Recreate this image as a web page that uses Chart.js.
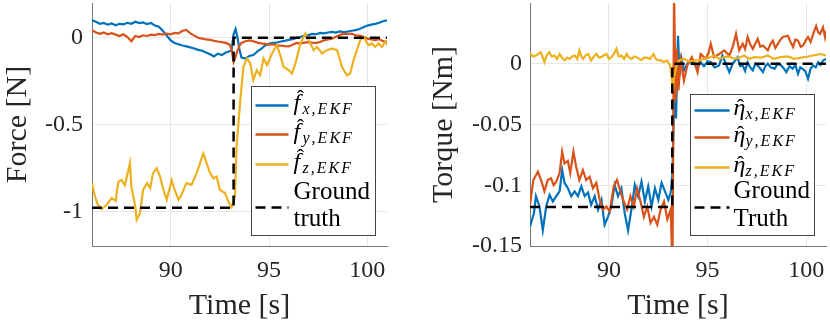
<!DOCTYPE html>
<html>
<head>
<meta charset="utf-8">
<script src="https://cdn.jsdelivr.net/npm/chart.js@4.4.1/dist/chart.umd.min.js"></script>
<style>
body{margin:0;background:#fff;width:830px;height:326px;position:relative;overflow:hidden}
canvas{position:absolute;top:0}
#forceChart{left:0}
#torqueChart{left:415px}
</style>
</head>
<body>
<canvas id="forceChart" width="415" height="326"></canvas>
<canvas id="torqueChart" width="415" height="326"></canvas>
<script>
const timeTicks = [90, 95, 100]
const forceTicks = [-1, -0.5, 0]
const torqueTicks = [-0.15, -0.1, -0.05, 0]

// force plot, x and y estimates share one time grid
const forceTime = [86.0,86.2,86.4,86.6,86.8,87.0,87.2,87.4,87.6,87.8,88.0,88.2,88.4,88.6,88.8,89.0,89.2,89.4,89.6,89.8,
  90.0,90.2,90.4,90.6,90.8,91.0,91.2,91.4,91.6,91.8,92.0,92.2,92.4,92.6,92.8,93.0,
  93.1,93.2,93.3,93.4,93.5,93.6,
  93.8,94.0,94.2,94.4,94.6,94.8,95.0,95.2,95.4,95.6,95.8,96.0,96.2,96.4,96.6,96.8,97.0,97.2,97.4,97.6,97.8,98.0,98.2,98.4,98.6,98.8,99.0,99.2,99.4,99.6,99.8,100.0,100.2,100.4,100.6,100.8,101.0]
const forceX = [0.100,0.092,0.080,0.085,0.075,0.082,0.072,0.080,0.077,0.086,0.080,0.092,0.084,0.088,0.078,0.085,0.070,0.063,0.040,0.012,
  -0.015,-0.030,-0.038,-0.045,-0.050,-0.056,-0.062,-0.070,-0.075,-0.085,-0.095,-0.108,-0.092,-0.100,-0.085,-0.078,
  -0.070,0.020,0.050,0.000,-0.070,-0.115,
  -0.120,-0.105,-0.100,-0.080,-0.065,-0.045,-0.035,-0.030,-0.028,-0.022,-0.018,-0.012,-0.008,-0.002,0.004,0.012,0.015,0.022,0.020,0.028,0.025,0.030,0.034,0.030,0.036,0.032,0.035,0.040,0.044,0.050,0.060,0.070,0.075,0.080,0.086,0.095,0.100]
const forceY = [0.043,0.030,0.022,0.030,0.020,0.026,0.018,0.010,0.020,0.004,-0.020,0.010,0.004,0.014,0.010,0.018,0.015,0.022,0.018,0.024,
  0.020,0.028,0.025,0.040,0.045,0.025,0.012,0.000,-0.005,-0.010,-0.012,-0.018,-0.022,-0.025,-0.030,-0.040,
  -0.070,-0.140,-0.110,-0.075,-0.045,-0.030,
  -0.020,-0.015,-0.020,-0.028,-0.033,-0.035,-0.040,-0.038,-0.045,-0.045,-0.048,-0.050,-0.040,-0.030,-0.034,-0.028,-0.025,-0.028,-0.030,-0.025,-0.015,-0.010,-0.005,0.005,0.015,0.024,0.020,0.024,0.014,0.012,0.005,-0.005,-0.010,-0.014,-0.008,-0.020,-0.024]
// z estimate, [time, value]
const forceZ = [[86.0,-0.838],[86.15,-0.915],[86.3,-0.963],[86.5,-0.987],[86.75,-0.963],[87.0,-0.924],[87.2,-0.94],[87.34,-0.829],
  [87.5,-0.82],[87.67,-0.85],[87.93,-0.723],[88.0,-0.857],[88.2,-0.972],[88.27,-1.049],[88.44,-1.01],[88.6,-0.876],[88.8,-0.838],
  [88.96,-0.866],[89.1,-0.78],[89.29,-0.752],[89.46,-0.8],[89.63,-0.876],[89.8,-0.934],[89.97,-0.857],[90.05,-0.82],[90.2,-0.876],
  [90.4,-0.934],[90.55,-0.905],[90.8,-0.838],[91.06,-0.848],[91.32,-0.78],[91.66,-0.666],[91.83,-0.723],[92.0,-0.78],[92.17,-0.81],
  [92.34,-0.8],[92.5,-0.876],[92.76,-0.895],[92.93,-0.944],[93.1,-0.976],[93.27,-0.915],[93.35,-0.628],[93.54,-0.36],[93.7,-0.168],
  [93.88,-0.12],[94.05,-0.148],[94.2,-0.244],[94.38,-0.187],[94.55,-0.216],[94.72,-0.12],[94.9,-0.158],[95.15,-0.091],[95.4,-0.043],
  [95.57,-0.1],[95.74,-0.168],[96.0,-0.187],[96.17,-0.206],[96.34,-0.149],[96.6,-0.033],[96.85,0.024],[97.02,-0.014],[97.27,-0.072],
  [97.44,-0.053],[97.7,-0.091],[97.95,-0.072],[98.2,-0.062],[98.46,-0.072],[98.71,-0.168],[98.96,-0.216],[99.13,-0.206],[99.3,-0.129],
  [99.47,-0.072],[99.64,-0.014],[99.8,0.005],[100.06,-0.043],[100.23,-0.033],[100.4,-0.053],[100.57,-0.033],[100.74,-0.053],[100.9,-0.024],[101.0,-0.04]]
const forceTruthTime = [86, 93.2, 93.2, 101]
const forceTruth = [-0.98, -0.98, 0, 0]

// torque plot, [time, value]
const torqueX = [[86.0,-0.134],[86.2,-0.123],[86.3,-0.109],[86.48,-0.1175],[86.65,-0.137],[86.82,-0.1175],[86.99,-0.108],[87.16,-0.1134],
  [87.33,-0.109],[87.5,-0.105],[87.63,-0.0875],[87.75,-0.098],[87.92,-0.1025],[88.09,-0.109],[88.26,-0.105],[88.43,-0.109],[88.6,-0.101],
  [88.77,-0.109],[88.94,-0.106],[89.1,-0.116],[89.28,-0.109],[89.45,-0.12],[89.62,-0.112],[89.78,-0.1325],[89.95,-0.126],[90.12,-0.1175],
  [90.29,-0.0998],[90.46,-0.109],[90.63,-0.1025],[90.8,-0.123],[90.97,-0.137],[91.14,-0.12],[91.31,-0.0998],[91.48,-0.109],[91.65,-0.097],
  [91.82,-0.1134],[91.99,-0.101],[92.16,-0.1175],[92.33,-0.1025],[92.5,-0.112],[92.67,-0.098],[92.84,-0.105],[93.01,-0.112],[93.13,-0.106],
  [93.22,-0.09],[93.3,-0.03],[93.4,-0.045],[93.5,0.023],[93.58,-0.01],[93.68,0.004],[93.8,-0.0055],[93.97,0],
  [94.15,0.002],[94.3,0],[94.48,-0.003],[94.65,0.0013],[94.82,-0.002],[95.0,0.002],[95.16,0.0013],[95.35,-0.003],[95.58,-0.0014],
  [95.75,0.0068],[95.9,0.001],[96.1,-0.0069],[96.27,0],[96.52,0.0054],[96.65,-0.002],[96.78,-0.0014],[96.9,-0.006],[97.03,0.0013],
  [97.16,-0.003],[97.29,-0.0055],[97.42,0],[97.54,-0.0014],[97.67,-0.004],[97.8,-0.0069],[97.93,-0.002],[98.05,0],[98.2,-0.003],
  [98.4,-0.004],[98.56,0],[98.73,-0.0014],[98.87,-0.004],[98.99,-0.0069],[99.15,-0.002],[99.3,-0.004],[99.45,-0.001],[99.58,-0.0082],
  [99.7,-0.003],[99.8,-0.004],[99.95,-0.006],[100.09,-0.0123],[100.22,-0.004],[100.35,-0.0014],[100.48,-0.003],[100.6,0.0013],
  [100.72,-0.001],[100.85,0.0027],[101.0,0.004]]
const torqueY = [[86.0,-0.116],[86.17,-0.0957],[86.4,-0.0888],[86.56,-0.0957],[86.73,-0.105],[86.9,-0.0957],[87.07,-0.0943],[87.2,-0.1],
  [87.33,-0.097],[87.5,-0.09],[87.63,-0.0724],[87.75,-0.082],[87.92,-0.08],[88.04,-0.09],[88.2,-0.0724],[88.34,-0.0847],[88.5,-0.0957],
  [88.68,-0.0875],[88.85,-0.0957],[89.02,-0.093],[89.19,-0.1025],[89.36,-0.098],[89.53,-0.112],[89.7,-0.12],[89.87,-0.1175],[90.04,-0.1216],
  [90.24,-0.101],[90.41,-0.0957],[90.58,-0.105],[90.75,-0.1134],[90.92,-0.12],[91.09,-0.109],[91.26,-0.1175],[91.43,-0.1025],[91.6,-0.1134],
  [91.77,-0.126],[91.94,-0.1175],[92.11,-0.131],[92.28,-0.126],[92.45,-0.1325],[92.62,-0.12],[92.79,-0.1134],[92.96,-0.128],[93.13,-0.12],
  [93.22,-0.17],[93.3,0.06],[93.38,-0.03],[93.45,0.012],[93.52,-0.022],[93.64,0.0027],[93.8,-0.014],[93.97,-0.0014],
  [94.2,0.0054],[94.35,0],[94.49,-0.0069],[94.65,0.008],[94.9,0.004],[95.05,0.009],[95.16,0.0164],[95.33,0.0054],[95.58,0.008],
  [95.84,0.011],[96.1,0.0068],[96.27,0.0137],[96.44,0.0246],[96.6,0.011],[96.78,0.0164],[96.9,0.012],[97.03,0.022],[97.16,0.016],
  [97.29,0.0123],[97.54,0.0205],[97.67,0.014],[97.8,0.015],[98.05,0.011],[98.18,0.016],[98.3,0.019],[98.43,0.013],[98.56,0.0164],
  [98.7,0.02],[98.82,0.022],[99.07,0.023],[99.2,0.018],[99.33,0.0137],[99.45,0.02],[99.58,0.019],[99.72,0.014],[99.84,0.015],
  [100.0,0.02],[100.09,0.022],[100.22,0.018],[100.35,0.0246],[100.5,0.031],[100.6,0.026],[100.7,0.0246],[100.85,0.03],[100.95,0.022],[101.0,0.027]]
const torqueZ = [[86.0,0.0087],[86.15,0.006],[86.3,0.0068],[86.55,0.0095],[86.73,0.0013],[86.85,0.007],[86.98,0.0095],[87.1,0.006],
  [87.24,0.0068],[87.37,0.004],[87.5,0.008],[87.62,0.005],[87.75,0.0027],[87.88,0.005],[88.0,0.004],[88.14,0.006],[88.27,0.0068],
  [88.4,0.004],[88.5,0.011],[88.6,0.006],[88.7,0.004],[88.82,0.007],[88.95,0.008],[89.1,0.0027],[89.24,0.006],[89.37,0.008],[89.5,0.005],
  [89.6,0.0054],[89.75,0.007],[89.88,0.008],[90.0,0.004],[90.13,0.0054],[90.25,0.008],[90.38,0.0123],[90.5,0.006],[90.64,0.0068],
  [90.77,0.004],[90.9,0.008],[91.02,0.005],[91.15,0.004],[91.28,0.006],[91.4,0.0054],[91.53,0.004],[91.66,0.003],[91.78,0.005],
  [91.9,0.005],[92.08,0.004],[92.26,0.008],[92.38,0.004],[92.5,0.0027],[92.63,0.003],[92.77,0.0013],[92.94,0.0027],[93.1,-0.0014],
  [93.2,-0.014],[93.25,-0.022],[93.3,-0.011],[93.42,-0.002],[93.55,0.0027],[93.8,0.004],[94.05,0.002],[94.3,0.0027],[94.55,0.003],
  [94.82,0.004],[95.08,0.005],[95.33,0.0068],[95.58,0.004],[95.84,0.0054],[96.1,0.006],[96.35,0.004],[96.6,0.005],[96.86,0.0068],
  [97.1,0.004],[97.37,0.0054],[97.7,0.005],[98.05,0.0068],[98.35,0.004],[98.7,0.0054],[99.05,0.006],[99.4,0.004],[99.75,0.005],
  [100.1,0.006],[100.4,0.007],[100.74,0.008],[101.0,0.0068]]
const torqueTruthTime = [86, 93.21, 93.21, 101]
const torqueTruth = [-0.118, -0.118, 0, 0]

const forceLabels = [["f","x,EKF"],["f","y,EKF"],["f","z,EKF"],["Ground","truth"]]
const torqueLabels = [["η","x,EKF"],["η","y,EKF"],["η","z,EKF"],["Ground","Truth"]]

const blue = "#0072BD", red = "#D95319", yellow = "#EDB120"
const serif = '"Liberation Serif", "Times New Roman", serif'
Chart.defaults.font.family = serif
Chart.defaults.color = "#262626"

function toPoints(times, values){
  return values.map((v, i) => ({x: times[i], y: v}))
}
function fromPairs(list){
  return list.map(p => ({x: p[0], y: p[1]}))
}
function lineSet(data, color, order){
  return {data, borderColor: color, borderWidth: 2.2, pointRadius: 0, tension: 0, order}
}
function truthSet(data){
  return {data, borderColor: "#000", borderWidth: 2.5, borderDash: [10, 6], pointRadius: 0, tension: 0, order: 0}
}

// legend with hats and subscripts, drawn inside the axes
const mathLegend = {
  id: "mathLegend",
  afterDraw(chart, args, o){
    const ctx = chart.ctx, area = chart.chartArea
    const x0 = Math.round(area.right - o.right - o.width) + 0.5
    const y0 = Math.round(area.bottom - o.bottom - o.height) + 0.5
    ctx.save()
    ctx.fillStyle = "#fff"
    ctx.fillRect(x0, y0, o.width, o.height)
    ctx.strokeStyle = "#444"
    ctx.lineWidth = 1
    ctx.strokeRect(x0, y0, o.width, o.height)
    o.labels.forEach((lab, i) => {
      const ds = chart.data.datasets[i]
      const ly = y0 + o.rows[i]
      ctx.strokeStyle = ds.borderColor
      ctx.lineWidth = 2.5
      ctx.setLineDash(ds.borderDash || [])
      ctx.beginPath()
      ctx.moveTo(x0 + o.lineFrom, ly)
      ctx.lineTo(x0 + o.lineTo, ly)
      ctx.stroke()
      ctx.setLineDash([])
      ctx.fillStyle = "#000"
      ctx.textAlign = "left"
      ctx.textBaseline = "alphabetic"
      const tx = x0 + o.textX
      if (i < 3) {
        ctx.font = "italic 24px " + serif
        ctx.fillText(lab[0], tx, ly + o.symDrop)
        ctx.font = "22px " + serif
        ctx.textAlign = "center"
        ctx.fillText("ˆ", tx + o.hatX, ly + o.hatDrop)
        ctx.textAlign = "left"
        ctx.font = "italic 16px " + serif
        let cx = tx + o.subX
        for (const ch of lab[1]) {
          ctx.fillText(ch, cx, ly + o.subDrop)
          cx += ctx.measureText(ch).width + 2
        }
      } else {
        ctx.font = "25px " + serif
        ctx.fillText(lab[0], tx, y0 + o.textRows[0])
        ctx.fillText(lab[1], tx, y0 + o.textRows[1])
      }
    })
    ctx.restore()
  }
}

function makeOptions(cfg){
  return {
    responsive: false,
    animation: false,
    devicePixelRatio: 1,
    layout: {padding: {top: 3, right: cfg.padRight, left: 0, bottom: 0}},
    plugins: {legend: {display: false}, tooltip: {enabled: false}, mathLegend: cfg.legend},
    scales: {
      x: {
        type: "linear", min: 86, max: 101,
        afterBuildTicks: s => { s.ticks = timeTicks.map(v => ({value: v})) },
        afterFit: s => { s.height = 80; s.paddingLeft = 0; s.paddingRight = 0 },
        grid: {color: "#e8e8e8", drawTicks: false},
        border: {color: "#777"},
        ticks: {padding: 10, font: {size: 24}},
        title: {display: true, text: "Time [s]", font: {size: 30}, padding: {top: 0, bottom: 2}}
      },
      y: {
        min: cfg.min, max: cfg.max,
        afterBuildTicks: s => { s.ticks = cfg.ticks.map(v => ({value: v})) },
        afterFit: s => { s.width = cfg.yWidth; s.paddingTop = 0; s.paddingBottom = 0 },
        grid: {color: "#e8e8e8", drawTicks: false},
        border: {color: "#777"},
        ticks: {padding: cfg.tickPad, font: {size: 24}, callback: v => String(v)},
        title: {display: true, text: cfg.title, font: {size: 30}, padding: {top: cfg.titlePad, bottom: 0}}
      }
    }
  }
}

new Chart(document.getElementById("forceChart"), {
  type: "line",
  data: {datasets: [
    lineSet(toPoints(forceTime, forceX), blue, 3),
    lineSet(toPoints(forceTime, forceY), red, 2),
    lineSet(fromPairs(forceZ), yellow, 1),
    truthSet(toPoints(forceTruthTime, forceTruth))
  ]},
  options: makeOptions({
    min: -1.2, max: 0.2, ticks: forceTicks, yWidth: 92, padRight: 28, tickPad: 9,
    title: "Force [N]", titlePad: 0,
    legend: {labels: forceLabels, width: 124, height: 149, right: 12, bottom: 11,
      lineFrom: 4, lineTo: 37, textX: 42, rows: [19, 48, 78, 121], textRows: [112, 139],
      symDrop: 4, hatX: 7, hatDrop: -1, subX: 9, subDrop: 8}
  }),
  plugins: [mathLegend]
})

new Chart(document.getElementById("torqueChart"), {
  type: "line",
  data: {datasets: [
    lineSet(fromPairs(torqueX), blue, 3),
    lineSet(fromPairs(torqueY), red, 2),
    lineSet(fromPairs(torqueZ), yellow, 1),
    truthSet(toPoints(torqueTruthTime, torqueTruth))
  ]},
  options: makeOptions({
    min: -0.15, max: 0.05, ticks: torqueTicks, yWidth: 115, padRight: 4, tickPad: 8,
    title: "Torque [Nm]", titlePad: 11,
    legend: {labels: torqueLabels, width: 124, height: 141, right: 12, bottom: 11,
      lineFrom: 4, lineTo: 39, textX: 43, rows: [16, 43, 73, 113], textRows: [103, 131],
      symDrop: 4, hatX: 7, hatDrop: 3, subX: 12, subDrop: 8}
  }),
  plugins: [mathLegend]
})
</script>
</body>
</html>
